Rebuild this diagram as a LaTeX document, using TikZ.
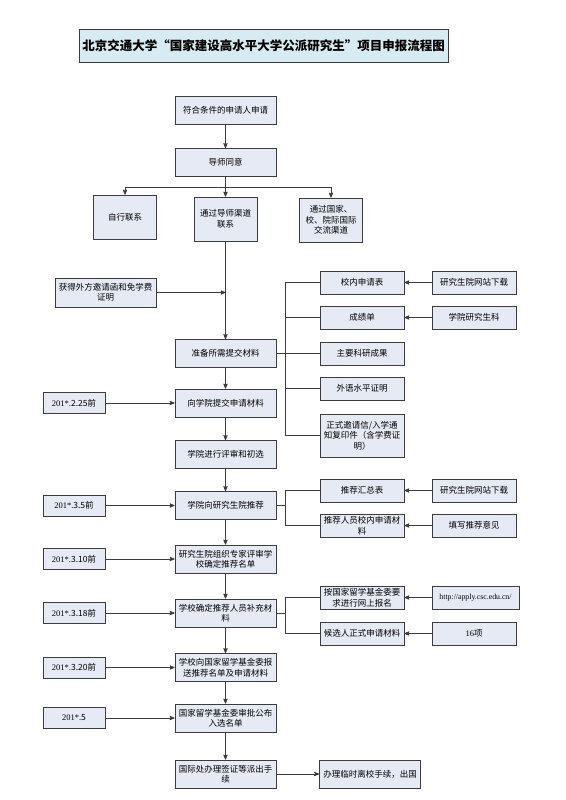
\documentclass[tikz,border=0pt]{standalone}
\usepackage{fontspec}
\setmainfont{Noto Sans CJK SC}
\newfontfamily\latin{Liberation Serif}
\usepackage{xcolor}
\usepackage{tikz}
\usetikzlibrary{arrows}
\definecolor{boxfill}{RGB}{230,234,245}
\definecolor{titlefill}{RGB}{214,236,242}
\definecolor{edge}{RGB}{60,60,60}
\tikzset{
 box/.style={draw=edge, line width=.8pt, fill=boxfill, align=center, inner sep=1pt,
  font=\fontsize{8.5}{10.5}\selectfont},
 mainbox/.style={box, minimum width=101pt, minimum height=28pt},
 sidebox/.style={box, minimum width=63pt, minimum height=44pt},
 datebox/.style={box, minimum width=62pt, minimum height=21pt},
 itembox/.style={box, minimum width=84pt, minimum height=23pt},
 link/.style={draw=edge, line width=.8pt, ->, >=stealth'},
 tie/.style={draw=edge, line width=.8pt}
}

\begin{document}
\begin{tikzpicture}[x=1pt,y=-1pt]
\fill[white] (0,0) rectangle (565,800);
\useasboundingbox (0,0) rectangle (565,800);
\node[draw=edge, line width=.8pt, fill=titlefill, minimum width=367pt, minimum height=33pt,
 font=\bfseries\fontsize{12.5}{14}\selectfont] (title) at (263.5,45.5)
 {北京交通大学“国家建设高水平大学公派研究生”项目申报流程图};

\node[mainbox] (m1) at (225.5,110) {符合条件的申请人申请};
\node[mainbox] (m2) at (225.5,162.5) {导师同意};
\node[sidebox] (s1) at (125,217) {自行联系};
\node[sidebox] (s2) at (225.5,219) {通过导师渠道\\联系};
\node[sidebox] (s3) at (331,220) {通过国家、\\校、院际国际\\交流渠道};
\node[mainbox, minimum height=29pt] (invit) at (105.5,292.5) {获得外方邀请函和免学费\\证明};
\node[mainbox] (m3) at (225.5,353.5) {准备所需提交材料};
\node[mainbox] (m4) at (225.5,403) {向学院提交申请材料};
\node[mainbox] (m5) at (225.5,454.5) {学院进行评审和初选};
\node[mainbox] (m6) at (225.5,505.5) {学院向研究生院推荐};
\node[mainbox] (m7) at (225.5,559) {研究生院组织专家评审学\\校确定推荐名单};
\node[mainbox] (m8) at (225.5,613) {学校确定推荐人员补充材\\料};
\node[mainbox] (m9) at (225.5,667.5) {学校向国家留学基金委报\\送推荐名单及申请材料};
\node[mainbox] (m10) at (225.5,718) {国家留学基金委审批公布\\入选名单};
\node[mainbox] (m11) at (225.5,774) {国际处办理签证等派出手\\续};
\node[mainbox] (out) at (370,774) {办理临时离校手续，出国};

\node[itembox] (a1) at (362,282.5) {校内申请表};
\node[itembox] (a2) at (362,317.5) {成绩单};
\node[itembox] (a3) at (362,353.5) {主要科研成果};
\node[itembox] (a4) at (362,388.5) {外语水平证明};
\node[itembox, minimum height=43pt] (a5) at (362,435.5) {正式邀请信/入学通\\知复印件（含学费证\\明）};
\node[itembox] (c1) at (362,490.5) {推荐汇总表};
\node[itembox] (c2) at (362,525.5) {推荐人员校内申请材\\料};
\node[itembox] (e1) at (362,597.5) {按国家留学基金委要\\求进行网上报名};
\node[itembox] (e2) at (362,633.5) {候选人正式申请材料};

\node[itembox] (b1) at (474,282.5) {研究生院网站下载};
\node[itembox] (b2) at (474,317.5) {学院研究生科};
\node[itembox] (b3) at (474,490.5) {研究生院网站下载};
\node[itembox] (b4) at (474,525.5) {填写推荐意见};
\node[itembox, minimum width=87pt, font=\latin\fontsize{7.8}{10}\selectfont] (b5) at (475.5,597.5) {http://apply.csc.edu.cn/};
\node[itembox] (b6) at (474,633.5) {{\latin 16}项};

\foreach \d/\m/\t in {d1/m4/2.25前, d2/m6/3.5前, d3/m7/3.10前, d4/m8/3.18前, d5/m9/3.20前, d6/m10/5} {
 \node[datebox] (\d) at (74,0 |- \m) {{\latin 201*.}\t};
 \draw[link] (\d) -- (\m);
}

\coordinate (br) at (225.5,187);
\draw[link] (m1) -- (m2);
\draw[link] (m2) -- (s2);
\draw[tie] (br -| s1) -- (br -| s3);
\draw[link] (br -| s1) -- (s1);
\draw[link] (br -| s3) -- (s3);
\draw[link] (s2) -- (m3);
\draw[link] (invit) -- (invit -| s2);
\foreach \a/\b in {m3/m4, m4/m5, m5/m6, m6/m7, m7/m8, m8/m9, m9/m10, m10/m11, m11/out} {
 \draw[link] (\a) -- (\b);
}

\coordinate (j1) at (285,0 |- m3);
\coordinate (j2) at (285,0 |- m6);
\coordinate (j3) at (285,0 |- m8);
\draw[tie] (m3) -- (j1);
\draw[tie] (m6) -- (j2);
\draw[tie] (m8) -- (j3);
\foreach \a in {a1,a2,a3,a4,a5} {
 \draw[tie] (\a.west) -| (j1);
}
\foreach \a/\j in {c1/j2, c2/j2, e1/j3, e2/j3} {
 \draw[tie] (\a.west) -| (\j);
}
\foreach \b/\a in {b1/a1, b2/a2, b3/c1, b4/c2, b5/e1, b6/e2} {
 \draw[link] (\b) -- (\a);
}
\end{tikzpicture}
\end{document}
